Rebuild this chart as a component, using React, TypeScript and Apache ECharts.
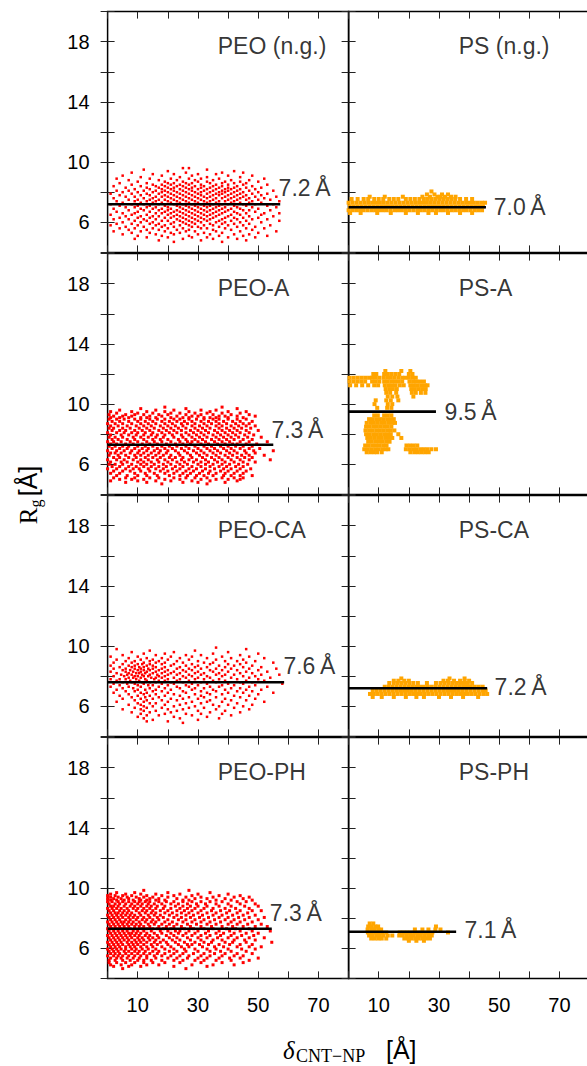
import React, { useEffect, useRef } from 'react';
import * as echarts from 'echarts';

// ---------------- data ----------------
const panelNames = ['PEO (n.g.)', 'PS (n.g.)', 'PEO-A', 'PS-A', 'PEO-CA', 'PS-CA', 'PEO-PH', 'PS-PH'];
const meanRg = [7.2, 7.0, 7.3, 9.5, 7.6, 7.2, 7.3, 7.1];
const meanLineEnd = [57.3, 45.6, 55, 29, 58.6, 46, 54.5, 35.7];
const xTickLabels = [10, 30, 50, 70];
const yTickLabels = [6, 10, 14, 18];

// rows: [Rg, delta1, delta2, ...]
const peoNgRows = [
  [9.6, 25, 27], [9.5, 12, 33], [9.4, 20, 42], [9.3, 8, 26, 38, 45], [9.2, 15, 22, 30, 36],
  [9.1, 5, 18, 28, 40, 48], [9.0, 11, 24, 33, 44], [8.9, 3, 14, 21, 27, 31, 37, 52],
  [8.8, 7, 17, 23, 29, 35, 41, 47], [8.7, 10, 19, 25, 30, 33, 39, 44, 50],
  [8.6, 4, 13, 20, 22, 26, 28, 34, 38, 42, 46], [8.5, 8, 15, 18, 21, 24, 27, 31, 36, 40, 45, 53],
  [8.4, 2, 11, 16, 19, 23, 25, 29, 32, 35, 38, 43, 48], [8.3, 6, 13, 17, 20, 22, 26, 28, 31, 34, 37, 40, 42, 46, 51],
  [8.2, 9, 14, 18, 21, 24, 27, 30, 33, 36, 39, 41, 44, 49], [8.1, 3, 7, 12, 16, 19, 22, 25, 28, 32, 35, 38, 40, 43, 47, 55],
  [8.0, 5, 10, 15, 18, 20, 23, 26, 29, 31, 34, 37, 39, 42, 45, 50], [7.9, 1, 8, 13, 17, 21, 24, 27, 30, 33, 36, 38, 41, 44, 48, 53],
  [7.8, 4, 11, 14, 19, 22, 25, 28, 31, 35, 37, 40, 43, 46, 51], [7.7, 6, 9, 16, 18, 20, 23, 26, 29, 32, 34, 39, 42, 45, 49, 56],
  [7.6, 2, 12, 15, 21, 24, 27, 30, 33, 36, 38, 41, 44, 47, 52], [7.5, 7, 10, 14, 17, 19, 22, 25, 28, 31, 35, 40, 43, 46, 50, 54],
  [7.4, 3, 9, 13, 16, 20, 23, 26, 29, 32, 34, 37, 39, 42, 48, 57], [7.3, 5, 11, 15, 18, 21, 24, 27, 30, 33, 36, 41, 44, 47, 51],
  [7.2, 1, 8, 12, 17, 22, 25, 28, 31, 35, 38, 40, 45, 49, 55], [7.1, 4, 10, 14, 19, 23, 26, 29, 32, 34, 37, 42, 46, 53],
  [7.0, 6, 9, 13, 16, 20, 24, 27, 30, 33, 36, 39, 43, 48, 56], [6.9, 2, 11, 15, 18, 21, 25, 28, 31, 35, 38, 41, 44, 50],
  [6.8, 7, 12, 17, 20, 23, 26, 29, 32, 34, 37, 40, 45, 47, 54], [6.7, 3, 10, 14, 19, 22, 24, 27, 30, 33, 36, 39, 42, 49],
  [6.6, 5, 9, 16, 18, 21, 25, 28, 31, 35, 38, 43, 46, 52, 57], [6.5, 1, 8, 13, 20, 23, 26, 29, 32, 34, 37, 41, 44, 51],
  [6.4, 6, 11, 15, 17, 22, 24, 27, 30, 33, 36, 40, 47, 55], [6.3, 4, 10, 14, 19, 21, 25, 28, 31, 35, 39, 42, 45, 50],
  [6.2, 2, 7, 12, 16, 23, 26, 29, 32, 34, 38, 43, 48, 53], [6.1, 9, 13, 18, 20, 24, 27, 30, 33, 37, 41, 46, 57],
  [6.0, 5, 11, 15, 22, 25, 28, 31, 36, 39, 44, 51], [5.9, 3, 8, 14, 17, 21, 26, 29, 34, 38, 42, 47],
  [5.8, 1, 10, 16, 19, 24, 27, 32, 35, 40, 45, 54], [5.7, 6, 12, 18, 22, 28, 30, 37, 43, 49],
  [5.6, 4, 9, 15, 20, 25, 31, 33, 39, 46, 52], [5.5, 7, 13, 17, 23, 27, 35, 41, 48],
  [5.4, 2, 11, 19, 26, 29, 36, 44, 56], [5.3, 8, 14, 21, 24, 32, 38, 50], [5.2, 5, 16, 22, 30, 34, 42, 47],
  [5.1, 10, 18, 27, 37, 45, 53], [5.0, 13, 20, 28, 33, 40, 49], [4.9, 9, 25, 35, 43], [4.8, 17, 31, 46], [4.7, 22, 38],
];

const psNgRows = [
  [8.05, 27.5], [7.85, 26, 28.5, 31, 33], [7.7, 7, 12, 18, 24.5, 27, 29.5, 30.5, 32, 34, 35.5],
  [7.55, 1, 3, 5, 6.5, 8.5, 10, 11.5, 13.5, 15, 16.5, 19, 20.5, 22, 23.5, 25, 26.3, 27.6, 28.9, 30.2, 31.5, 32.8, 34.1, 35.4, 37, 39, 41],
  [7.3, 0, 1.3, 2.6, 3.9, 5.2, 6.5, 7.8, 9.1, 10.4, 11.7, 13, 14.3, 15.6, 16.9, 18.2, 19.5, 20.8, 22.1, 23.4, 24.7, 26, 27.3, 28.6, 29.9, 31.2, 32.5, 33.8, 35.1, 36.4, 37.7, 39, 40.3, 41.6, 42.9, 44.2, 45.3],
  [7.05, 0.4, 1.7, 3, 4.3, 5.6, 6.9, 8.2, 9.5, 10.8, 12.1, 13.4, 14.7, 16, 17.3, 18.6, 19.9, 21.2, 22.5, 23.8, 25.1, 26.4, 27.7, 29, 30.3, 31.6, 32.9, 34.2, 35.5, 36.8, 38.1, 39.4, 40.7, 42, 43.3, 44.6],
  [6.8, 0, 1.2, 2.5, 3.8, 5, 6.3, 7.6, 8.8, 10.1, 11.4, 12.6, 13.9, 15.2, 16.4, 17.7, 19, 20.2, 21.5, 22.8, 24, 25.3, 26.6, 27.8, 29.1, 30.4, 31.6, 32.9, 34.2, 35.4, 36.7, 38, 39.2, 40.5, 41.8, 43, 44.3],
  [6.62, 0.5, 4, 9.5, 14, 19, 23, 26.5, 29, 33, 37, 41],
];

const peoARows = [
  [9.8, 19, 38], [9.7, 11, 26, 43], [9.6, 4, 16, 22, 31, 36], [9.5, 1, 8, 13, 19, 27, 34, 40, 46],
  [9.4, 3, 10, 15, 21, 24, 29, 33, 38, 44], [9.3, 0.5, 6, 9, 12, 17, 20, 26, 31, 35, 41, 47],
  [9.2, 2, 5, 8, 14, 18, 23, 28, 30, 37, 39, 43, 49], [9.1, 1, 4, 7, 11, 13, 16, 21, 25, 27, 32, 34, 36, 40, 45],
  [9.0, 0.5, 3, 5.5, 9, 11, 14, 16.5, 19, 22, 24, 27, 29.5, 32, 35, 37, 40, 43, 46],
  [8.85, 1.5, 4, 7, 10, 12.5, 15, 18, 20.5, 23, 25.5, 28, 31, 33.5, 36, 38.5, 41.5, 44, 48],
  [8.7, 0, 2.5, 5, 8, 11, 13.5, 16, 19, 21.5, 24.5, 26.5, 29, 32, 34.5, 37, 39.5, 42.5, 45, 47],
  [8.55, 1, 3.5, 6.5, 9.5, 12, 14.5, 17.5, 20, 22.5, 25, 28, 30.5, 33, 36, 38, 41, 43.5, 46, 49],
  [8.4, 0.5, 2, 5, 7.5, 10.5, 13, 15.5, 18.5, 21, 23.5, 26, 29, 31.5, 34, 37, 39.5, 42, 44.5, 47.5],
  [8.25, 1.5, 4, 6, 9, 11.5, 14, 17, 19.5, 22, 24.5, 27.5, 30, 32.5, 35.5, 38, 40.5, 43, 46, 50],
  [8.1, 0, 3, 5.5, 8, 10, 12.5, 15, 18, 20.5, 23, 26, 28.5, 31, 33.5, 36.5, 39, 41.5, 44, 47],
  [7.95, 1, 4.5, 7, 9.5, 12, 14.5, 16.5, 19, 21.5, 24.5, 27, 29.5, 32, 35, 37.5, 40, 42.5, 45.5, 48.5],
  [7.8, 0.5, 2.5, 5, 8.5, 11, 13.5, 16, 18.5, 22, 25, 28, 30.5, 33, 36, 38.5, 41, 43.5, 46.5, 51],
  [7.65, 1.5, 3.5, 6.5, 9, 12, 15, 17.5, 20, 23.5, 26, 29, 31.5, 34.5, 37, 39.5, 42, 45, 48],
  [7.5, 0, 2, 4.5, 7.5, 10, 13, 15.5, 18, 21, 24, 26.5, 28, 30, 32.5, 35.5, 38, 40.5, 44, 47, 53],
  [7.35, 1, 3, 6, 8.5, 11.5, 14, 16.5, 19.5, 22.5, 25, 27.5, 31, 33.5, 36.5, 39, 41.5, 43, 46, 49.5],
  [7.2, 0.5, 2.5, 5, 7, 10, 12.5, 15, 18, 20.5, 23, 26, 29, 32, 34.5, 37.5, 40, 42.5, 45, 48],
  [7.05, 1.5, 4, 6.5, 9, 11.5, 13.5, 16.5, 19, 21.5, 24.5, 27, 30, 33, 35.5, 38.5, 41, 44, 47, 50.5],
  [6.9, 0, 3, 5.5, 8, 10.5, 13, 15.5, 17.5, 20, 22.5, 25.5, 28.5, 31, 34, 36.5, 39.5, 42, 45.5, 48.5, 55],
  [6.75, 1, 2.5, 4.5, 7.5, 10, 12, 14.5, 17, 19.5, 23.5, 26.5, 29.5, 32, 35, 37.5, 40.5, 43, 46, 49],
  [6.6, 0.5, 3.5, 6, 9, 11, 13.5, 16, 18.5, 21, 24, 27.5, 30.5, 33, 36, 39, 41.5, 44.5, 47, 52],
  [6.45, 2, 4, 7, 9.5, 12.5, 15, 17.5, 20.5, 22.5, 25, 28, 31.5, 34.5, 37, 40, 43, 45.5, 48],
  [6.3, 0, 3, 5.5, 8.5, 11, 13.5, 16.5, 19, 21.5, 24.5, 27, 29.5, 32.5, 35.5, 38, 41, 44, 47, 54],
  [6.15, 1, 4.5, 6.5, 10, 12, 14.5, 17, 20, 23, 25.5, 28.5, 31, 33.5, 36.5, 39, 42, 45, 49],
  [6.0, 0.5, 2.5, 5, 8, 11, 13, 15.5, 18.5, 21, 24, 26.5, 30, 32.5, 35, 38, 40.5, 43.5, 46.5],
  [5.85, 1.5, 4, 7, 9.5, 12, 14.5, 17, 19.5, 22.5, 25, 28, 31, 34, 37, 39.5, 42.5, 45],
  [5.7, 0, 3, 6, 8.5, 10.5, 13.5, 16, 18.5, 21.5, 24, 27, 29.5, 32.5, 35.5, 38.5, 41, 44, 47.5],
  [5.55, 2, 5, 7.5, 11, 14, 17.5, 20, 23, 26, 28.5, 31.5, 34, 37.5, 40, 43, 46],
  [5.4, 1, 4, 9, 12.5, 15.5, 19, 22, 25, 27.5, 30.5, 33.5, 36, 39, 42, 45],
  [5.25, 3, 6.5, 10, 13, 16.5, 20.5, 24, 26.5, 29.5, 32, 35, 38.5, 41, 44, 48],
  [5.1, 2, 6, 9, 14, 17, 22, 26, 29, 33, 38, 42, 45], [5.0, 4, 8, 12, 19, 24, 31, 36, 40, 44],
  [4.9, 1, 10, 16, 21, 28, 34, 43], [4.8, 6, 13, 25, 30, 39], [4.7, 18, 33],
];

const psARows = [
  [12.2, 12.2, 17.5, 20.5],
  [12.0, 8.2, 9.2, 11.8, 13, 14.2, 15.5, 16.8, 20, 21.2],
  [11.75, 0.3, 1.6, 2.9, 4.2, 5.5, 6.8, 7.8, 9, 10.2, 11.6, 12.8, 14, 15.2, 16.5, 17.8, 18.8, 20, 21.2, 22.3],
  [11.5, 0.3, 1.6, 2.9, 4.2, 5.5, 7.8, 9, 10.2, 11.8, 13, 14.2, 15.4, 16.6, 17.8, 20.2, 21.4, 22.5, 23.7, 25],
  [11.25, 0.5, 2.5, 4.5, 6.5, 8.5, 9.8, 12, 13.2, 14.4, 15.6, 17, 18.3, 20.5, 21.7, 22.9, 24.1, 25.3, 26.2],
  [11.0, 12.3, 13.5, 14.7, 16, 20.8, 22, 23.2, 24.4, 25.6],
  [10.75, 12.5, 13.8, 15.8, 21, 22.3, 24, 25.5],
  [10.5, 13, 14.5, 16.2, 21.5],
  [10.25, 9, 12.5, 14, 16.5],
  [10.0, 8.6, 13, 14.5],
  [9.75, 9.5, 12.8, 14.2],
  [9.25, 8.5, 9.7, 11.8, 13, 14.2],
  [9.0, 6.8, 8, 9.2, 10.4, 11.6, 12.8, 14, 15],
  [8.75, 6, 7.2, 8.4, 9.6, 10.8, 12, 13.2, 14.4, 15.4],
  [8.5, 5.8, 7, 8.2, 9.4, 10.6, 11.8, 13, 14.2],
  [8.25, 5.6, 6.8, 8, 9.2, 10.4, 11.6, 12.8, 14, 15.2],
  [8.0, 5.8, 7, 8.2, 9.4, 10.6, 11.8, 13, 14, 16.5],
  [7.75, 6.2, 7.4, 8.6, 9.8, 11, 12.2, 13.4, 14.5, 17.5],
  [7.5, 6.5, 7.7, 8.9, 10.1, 11.3, 12.5, 13.6],
  [7.25, 5.5, 6.7, 7.9, 9.1, 10.3, 11.5, 12.6, 19.2, 20.4, 21.6, 22.8],
  [7.0, 5.2, 6.4, 7.6, 8.8, 10, 11.2, 12.3, 13.2, 19, 20.2, 21.4, 22.6, 23.8, 25, 26.2, 27.5, 29],
  [6.8, 6, 7.2, 8.4, 9.5, 11, 20.5, 21.8, 23, 24.2, 25.4, 26.6],
];

const peoCaRows = [
  [9.9, 36], [9.8, 3, 46], [9.7, 14, 29], [9.6, 8, 22, 40], [9.5, 12, 19, 35, 50], [9.4, 5, 16, 26, 31, 44],
  [9.3, 1, 10, 21, 28, 38, 47], [9.2, 7, 13, 18, 24, 33, 41, 52], [9.1, 3, 11, 15, 20, 27, 36, 45],
  [9.0, 6, 9, 14, 17, 23, 30, 39, 43, 49], [8.9, 2, 8, 12, 16, 19, 25, 32, 35, 46, 55],
  [8.8, 5, 10, 11.5, 14, 18, 22, 28, 34, 40, 44], [8.7, 1, 7, 9, 13, 15, 21, 26, 30, 37, 42, 48],
  [8.6, 4, 8, 10.5, 12, 16, 19, 24, 29, 33, 39, 45, 51], [8.5, 2, 6, 9, 11, 13.5, 15, 18, 23, 27, 31, 36, 41, 47, 56],
  [8.4, 5, 7.5, 10, 12, 14, 17, 20, 25, 28, 34, 38, 43, 50], [8.3, 1, 6, 8.5, 11, 13, 16, 19, 22, 26, 30, 35, 40, 46, 53],
  [8.2, 3, 7, 9.5, 10.5, 12.5, 15, 18, 21, 24, 29, 32, 37, 44, 48], [8.1, 4.5, 6.5, 8, 11.5, 14, 16.5, 20, 23, 27, 31, 36, 39, 42, 51, 57],
  [8.0, 2, 5.5, 9, 10, 12, 13.5, 17, 19, 25, 28, 33, 38, 45, 49], [7.9, 7, 8.5, 11, 14.5, 16, 18, 22, 26, 30, 34, 41, 47, 54],
  [7.8, 1, 4, 6, 9.5, 12.5, 15.5, 20, 24, 29, 32, 37, 43, 50], [7.7, 3, 7.5, 10.5, 13, 17, 19, 23, 27, 35, 39, 46, 52],
  [7.6, 5, 8, 11.5, 14, 16, 21, 25, 31, 36, 44, 48], [7.5, 2, 6.5, 9, 12, 18, 22, 28, 33, 40, 45, 58],
  [7.4, 4, 10, 13.5, 15, 20, 26, 30, 38, 42, 49], [7.3, 1, 7, 11, 17, 23, 27, 34, 37, 47, 53],
  [7.2, 5, 8.5, 14, 19, 24, 29, 32, 41, 44], [7.1, 3, 10, 12.5, 16, 21, 28, 35, 39, 46, 51],
  [7.0, 6, 9, 15, 18, 25, 31, 36, 43, 48], [6.9, 2, 11, 13, 20, 26, 33, 40, 45, 55],
  [6.8, 7, 12, 16, 22, 29, 34, 38, 50], [6.7, 4, 10, 14, 19, 24, 31, 42, 47], [6.6, 8, 12.5, 17, 27, 32, 36, 44],
  [6.5, 5, 11, 15, 21, 25, 30, 39, 49], [6.4, 9, 13, 18, 23, 34, 41, 46], [6.3, 3, 12, 20, 28, 33, 38, 52],
  [6.2, 10, 14, 16, 26, 31, 43], [6.1, 7, 11, 19, 24, 35, 40, 48], [6.0, 12, 15, 22, 29, 37, 45],
  [5.9, 9, 13, 18, 27, 32, 42], [5.8, 5, 11, 20, 25, 36, 47], [5.7, 12, 16, 23, 30, 39], [5.6, 8, 14, 21, 34, 44],
  [5.5, 11, 19, 26, 31, 38], [5.4, 13, 17, 28, 41], [5.3, 10, 22, 33], [5.2, 12, 24, 37], [5.1, 15, 30], [5.0, 13, 20], [4.9, 25],
];

const psCaRows = [
  [7.85, 17.5, 33.5, 38.5],
  [7.7, 15, 16.5, 18.5, 20, 31.5, 33, 35, 37, 38.5, 40],
  [7.55, 13.5, 15, 16.3, 17.6, 18.9, 20.2, 21.5, 23, 26, 29, 30.5, 31.8, 33.1, 34.4, 35.7, 37, 38.3, 39.6, 41],
  [7.3, 12, 13.3, 14.6, 15.9, 17.2, 18.5, 19.8, 21.1, 22.4, 23.7, 25, 26.3, 27.6, 28.9, 30.2, 31.5, 32.8, 34.1, 35.4, 36.7, 38, 39.3, 40.6, 41.9, 43.2, 44.5],
  [7.05, 8, 9.3, 10.6, 11.9, 13.2, 14.5, 15.8, 17.1, 18.4, 19.7, 21, 22.3, 23.6, 24.9, 26.2, 27.5, 28.8, 30.1, 31.4, 32.7, 34, 35.3, 36.6, 37.9, 39.2, 40.5, 41.8, 43.1, 44.4, 45.5],
  [6.82, 7.1, 8.4, 9.7, 11, 12.3, 13.6, 14.9, 16.2, 17.5, 18.8, 20.1, 21.4, 22.7, 24, 25.3, 26.6, 27.9, 29.2, 30.5, 31.8, 33.1, 34.4, 35.7, 37, 38.3, 39.6, 40.9, 42.2, 43.5, 44.8, 46],
  [6.62, 8, 11, 15, 19, 22.5, 25, 30, 34, 38, 43],
];

const peoPhRows = [
  [9.85, 12, 27], [9.7, 3, 9, 20, 34], [9.6, 1, 6, 11, 16, 24, 30, 40],
  [9.5, 0, 2.5, 5, 8, 13, 18, 22, 28, 37, 44], [9.4, 1, 3.5, 6.5, 9.5, 12, 15, 20, 26, 31, 35, 42, 47],
  [9.3, 0, 2, 4.5, 7, 10.5, 14, 17, 23, 29, 33, 39, 45], [9.2, 1, 3, 5.5, 8.5, 11, 13, 16, 19, 25, 27, 36, 41, 48],
  [9.1, 0, 1.5, 3.5, 5, 7, 9, 10.5, 12.5, 14, 17, 19.5, 22, 25, 28, 31, 34, 38, 43, 46],
  [8.95, 0.5, 2.5, 4, 6, 8, 10, 11.5, 13.5, 15.5, 18, 21, 23.5, 26.5, 29.5, 32.5, 36, 40, 44, 49],
  [8.8, 1, 2, 3.5, 5.5, 7.5, 9, 11, 13, 14.5, 16.5, 19, 22.5, 25, 27.5, 30, 33, 37, 41, 45.5, 50],
  [8.65, 0, 1.5, 3, 4.5, 6.5, 8.5, 10, 12, 14, 16, 18.5, 21, 24, 26.5, 29, 32, 35, 39, 42.5, 47],
  [8.5, 0.5, 2, 4, 5.5, 7, 9.5, 11.5, 13, 15, 17.5, 20, 23, 25.5, 28, 31, 34.5, 37.5, 40.5, 44, 48, 51],
  [8.35, 1, 2.5, 3.5, 5, 6.5, 8, 10.5, 12.5, 14.5, 16, 19, 21.5, 24.5, 27, 30, 33, 36, 39.5, 43, 46.5],
  [8.2, 0, 1.5, 3, 4.5, 6, 7.5, 9, 11, 13.5, 15.5, 17.5, 20.5, 23, 26, 28.5, 31.5, 35, 38, 41.5, 45, 49],
  [8.05, 0.5, 2, 3.5, 5, 7, 8.5, 10, 12, 14, 16.5, 18.5, 22, 24.5, 27.5, 30.5, 33.5, 37, 40, 43.5, 47, 52],
  [7.9, 1, 2.5, 4, 6, 7.5, 9.5, 11.5, 13, 15, 17, 20, 23.5, 26, 29, 32, 35.5, 39, 42, 45.5, 50],
  [7.75, 0, 1.5, 3, 4.5, 5.5, 7, 8.5, 10.5, 12.5, 14.5, 16, 19, 21.5, 25, 28, 31, 34, 37.5, 41, 44, 48],
  [7.6, 0.5, 2, 3.5, 5, 6.5, 8, 9.5, 11, 13.5, 15.5, 18, 20.5, 23, 26.5, 29.5, 33, 36, 40, 43, 46.5, 51],
  [7.45, 1, 2.5, 4, 5.5, 7, 9, 10.5, 12, 14, 17, 19.5, 22, 24.5, 27.5, 31, 34.5, 38, 41.5, 45, 49, 53],
  [7.3, 0, 1.5, 3, 4.5, 6, 7.5, 9, 11.5, 13, 15, 16.5, 18.5, 21, 25.5, 28.5, 32, 35, 39.5, 42.5, 47],
  [7.15, 0.5, 2, 3.5, 5, 6.5, 8.5, 10, 12, 14.5, 17.5, 20, 22.5, 24, 27, 30, 33.5, 37, 40.5, 44, 48, 54],
  [7.0, 1, 2.5, 4, 5.5, 7, 8, 9.5, 11, 13, 15.5, 18, 21, 23.5, 26, 29, 32.5, 36, 38.5, 42, 46, 50],
  [6.85, 0, 1.5, 3, 4.5, 6, 7.5, 9, 10.5, 12.5, 14, 16.5, 19.5, 22, 25, 28, 31, 34, 37.5, 41, 44.5, 48.5],
  [6.7, 0.5, 2, 3.5, 5, 6.5, 8, 10, 11.5, 13.5, 15, 17, 20.5, 23, 26.5, 30, 33, 36.5, 40, 43, 47, 52],
  [6.55, 1, 2.5, 4, 5.5, 7, 9, 10.5, 12, 14, 16, 18.5, 21.5, 24, 27.5, 31, 35, 38, 42, 45.5, 49],
  [6.4, 0, 1.5, 3, 4.5, 6.5, 8, 9.5, 11, 13, 15.5, 17.5, 19.5, 22.5, 25.5, 29, 32, 34.5, 39, 41.5, 46, 54.5],
  [6.25, 0.5, 2, 3.5, 5, 7, 8.5, 10, 12, 14.5, 16.5, 20, 23.5, 26.5, 28, 30.5, 33.5, 37, 40.5, 44, 48],
  [6.1, 1, 2.5, 4, 6, 7.5, 9, 11, 13, 15, 18, 21, 24.5, 27, 31.5, 35.5, 38.5, 43, 47, 51],
  [5.95, 0, 1.5, 3, 4.5, 6, 8, 9.5, 11.5, 13.5, 16, 19, 22, 25.5, 29, 33, 36, 40, 44.5, 49],
  [5.8, 0.5, 2, 3.5, 5.5, 7, 9, 10.5, 12.5, 15, 17, 20.5, 23, 26, 30, 34, 37.5, 41, 46],
  [5.65, 1, 2.5, 4, 6, 8, 10, 12, 14, 16.5, 19, 22, 25, 28.5, 32, 35.5, 39, 43, 48],
  [5.5, 0, 2, 3.5, 5, 7, 9, 11, 13, 15.5, 18, 21, 24, 27, 31, 34, 38, 42, 45],
  [5.35, 1, 3, 4.5, 6.5, 8.5, 10.5, 13, 16, 20, 23, 26.5, 30, 33, 37, 40.5, 44, 50],
  [5.2, 0.5, 2.5, 5, 7.5, 10, 12, 14.5, 18, 22, 25, 29, 32, 36, 41, 47],
  [5.05, 0.5, 3, 6, 9, 12, 15, 19, 24, 31, 38, 45], [4.9, 1, 4.5, 8, 13, 17, 28, 35, 42],
  [4.8, 2, 7, 11, 22, 33], [4.65, 5, 26],
];

const psPhRows = [
  [7.65, 7, 8.2],
  [7.45, 6.5, 7.7, 8.9, 9.8, 29],
  [7.25, 6.3, 7.5, 8.7, 9.9, 10.8, 22, 24.5, 26.5, 28.8, 30.5],
  [7.05, 6.4, 7.6, 8.8, 10, 11.2, 12.5, 17, 18.2, 19.4, 20.6, 21.8, 23, 24.2, 25.4, 26.6, 27.8, 33],
  [6.85, 6.8, 8, 9.2, 10.4, 11.6, 13, 14.5, 16.8, 18, 19.2, 20.4, 21.6, 22.8, 24, 25.2, 26.4, 27.6],
  [6.65, 7.5, 8.7, 9.9, 11, 12.5, 18.5, 19.7, 20.9, 22.1, 23.3, 24.5, 25.7, 27],
  [6.5, 20, 22.5, 25],
];

const panelRows = [peoNgRows, psNgRows, peoARows, psARows, peoCaRows, psCaRows, peoPhRows, psPhRows];

// ---------------- layout / style ----------------
const LEFT = [107.6, 348.6];
const TOP0 = 11.6;
const ROW_STEP = 242;
const GRID_W = 241;
const GRID_H = 240.8;
const RED = '#ff0000';
const ORANGE = '#ffa500';
const pointSize = [2.5, 4, 3, 4, 2.5, 4, 3, 4];
const valueLabelAnchor = [
  [56.6, 8.28], [48, 7.04], [54.2, 8.28], [31.7, 9.5],
  [58.2, 8.66], [48.3, 7.29], [53.7, 8.33], [38.3, 7.22],
];
const titleAnchor = [36.4, 17.7];
const SANS = '"Liberation Sans", Arial, sans-serif';
const SERIF = '"Liberation Serif", "DejaVu Serif", serif';

function rowsToPoints(rows: number[][]) {
  const pts: number[][] = [];
  rows.forEach((row) => {
    const y = row[0];
    for (let k = 1; k < row.length; k++) pts.push([row[k], y]);
  });
  return pts;
}

function buildOption() {
  const grids: any[] = [];
  const xAxes: any[] = [];
  const yAxes: any[] = [];
  const series: any[] = [];
  const tick = { show: true, inside: true, length: 7, lineStyle: { color: '#222', width: 1 } };

  for (let i = 0; i < 8; i++) {
    const r = Math.floor(i / 2);
    const c = i % 2;
    grids.push({
      left: LEFT[c], top: TOP0 + ROW_STEP * r, width: GRID_W, height: GRID_H,
      outerBoundsMode: 'none', containLabel: false,
      show: true, borderColor: '#000', borderWidth: 1.5, backgroundColor: 'transparent',
    });
    const xBase = {
      type: 'value', gridIndex: i, min: 0, max: 80, interval: 10,
      axisLine: { show: false }, axisTick: tick, splitLine: { show: false },
    };
    xAxes.push({
      ...xBase, position: 'bottom',
      axisLabel: {
        show: r === 3, margin: 17, fontSize: 20, color: '#000', fontFamily: SANS,
        formatter: (v: number) => (xTickLabels.includes(v) ? String(v) : ''),
      },
    });
    xAxes.push({ ...xBase, position: 'top', axisLabel: { show: false } });
    const yBase = {
      type: 'value', gridIndex: i, min: 4, max: 20, interval: 2,
      axisLine: { show: false }, axisTick: tick, splitLine: { show: false },
    };
    yAxes.push({
      ...yBase, position: 'left',
      axisLabel: {
        show: c === 0, margin: 18, fontSize: 20, color: '#000', fontFamily: SANS,
        formatter: (v: number) => (yTickLabels.includes(v) ? String(v) : ''),
      },
    });
    yAxes.push({ ...yBase, position: 'right', axisLabel: { show: false } });

    const color = c === 0 ? RED : ORANGE;
    series.push({
      type: 'scatter', xAxisIndex: 2 * i, yAxisIndex: 2 * i, symbol: 'rect',
      symbolSize: pointSize[i], itemStyle: { color, opacity: 1 }, silent: true,
      data: rowsToPoints(panelRows[i] as number[][]),
    });
    series.push({
      type: 'line', xAxisIndex: 2 * i, yAxisIndex: 2 * i, symbol: 'none', silent: true,
      lineStyle: { color: '#000', width: 2.6 },
      data: [[0, meanRg[i]], [meanLineEnd[i], meanRg[i]]],
    });
    series.push({
      type: 'scatter', xAxisIndex: 2 * i, yAxisIndex: 2 * i, symbolSize: 1, silent: true,
      itemStyle: { color: 'rgba(0,0,0,0)' },
      label: {
        show: true, position: 'right', distance: 0, fontSize: 23, color: '#000', fontFamily: SANS,
        formatter: () => meanRg[i].toFixed(1) + '\u2009Å',
      },
      data: [valueLabelAnchor[i]],
    });
    series.push({
      type: 'scatter', xAxisIndex: 2 * i, yAxisIndex: 2 * i, symbolSize: 1, silent: true,
      itemStyle: { color: 'rgba(0,0,0,0)' },
      label: {
        show: true, position: 'right', distance: 0, fontSize: 23, color: '#000', fontFamily: SANS,
        formatter: () => panelNames[i],
      },
      data: [titleAnchor],
    });
  }

  const txt = (text: string, fontSize: number, fontFamily: string, extra: any = {}) => ({
    text, fontSize, fontFamily, fill: '#000', align: 'left', verticalAlign: 'middle', ...extra,
  });

  const graphic = [
    {
      type: 'text', x: 28, y: 495, rotation: Math.PI / 2,
      style: {
        text: '{r|R}{g|g} {a|[Å]}',
        align: 'center', verticalAlign: 'middle', fill: '#000',
        rich: {
          r: { fontSize: 25, fontFamily: SERIF, lineHeight: 30, verticalAlign: 'middle', fill: '#000' },
          g: { fontSize: 16, fontFamily: SERIF, lineHeight: 16, verticalAlign: 'bottom', fill: '#000' },
          a: { fontSize: 25, fontFamily: SANS, lineHeight: 30, verticalAlign: 'middle', fill: '#000' },
        },
      },
    },
    { type: 'text', x: 283, y: 1050, style: txt('δ', 25, SERIF, { fontStyle: 'italic' }) },
    { type: 'text', x: 296, y: 1056, style: txt('CNT−NP', 18, SERIF) },
    { type: 'text', x: 386, y: 1050, style: txt('[Å]', 25, SANS) },
  ];

  return {
    animation: false,
    backgroundColor: '#fff',
    grid: grids,
    xAxis: xAxes,
    yAxis: yAxes,
    series,
    graphic,
  };
}

export default function App() {
  const ref = useRef<HTMLDivElement>(null);
  useEffect(() => {
    if (!ref.current) return;
    const chart = echarts.init(ref.current, undefined, { renderer: 'svg' });
    chart.setOption(buildOption() as any);
    return () => chart.dispose();
  }, []);
  return (
    <div
      ref={ref}
      style={{ position: 'absolute', left: 0, top: 0, width: 587, height: 1066, background: '#fff' }}
    />
  );
}
